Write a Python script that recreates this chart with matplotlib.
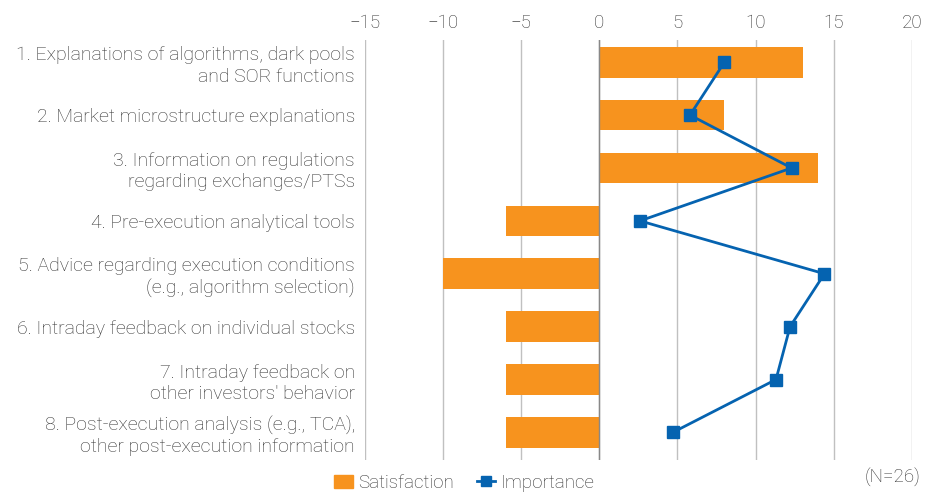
import numpy as np
import matplotlib.pyplot as plt
from matplotlib.lines import Line2D
from matplotlib.patches import Patch

plt.rcParams['font.family'] = ['Roboto', 'DejaVu Sans']
plt.rcParams['font.weight'] = 'light'

categories = [
    "1. Explanations of algorithms, dark pools\nand SOR functions",
    "2. Market microstructure explanations",
    "3. Information on regulations\nregarding exchanges/PTSs",
    "4. Pre-execution analytical tools",
    "5. Advice regarding execution conditions\n(e.g., algorithm selection)",
    "6. Intraday feedback on individual stocks",
    "7. Intraday feedback on\nother investors' behavior",
    "8. Post-execution analysis (e.g., TCA),\nother post-execution information",
]
satisfaction = [13, 8, 14, -6, -10, -6, -6, -6]
importance = [8.0, 5.8, 12.3, 2.6, 14.4, 12.2, 11.3, 4.7]
xticks = [-15, -10, -5, 0, 5, 10, 15, 20]

orange = '#F7931E'
blue = '#0563B0'
text_c = '#333333'

fig = plt.figure(figsize=(9.33, 4.94), dpi=100)
ax = fig.add_axes([0.391, 0.069, 0.5865, 0.85])

y = np.arange(len(categories))
ax.barh(y, satisfaction, height=0.58, color=orange, zorder=2)
ax.plot(importance, y, color=blue, lw=2, marker='s', markersize=8.5, zorder=3)

ax.set_xlim(-15, 20)
ax.set_ylim(7.52, -0.42)
ax.set_xticks(xticks)
ax.xaxis.tick_top()
ax.tick_params(axis='x', length=0, labelsize=13.5, colors=text_c, pad=6)
ax.set_yticks(y)
ax.set_yticklabels(categories, fontsize=14, color=text_c, linespacing=1.25)
ax.tick_params(axis='y', length=0, pad=7)
for lab in ax.get_yticklabels():
    lab.set_horizontalalignment('right')
    lab.set_multialignment('right')

ax.grid(axis='x', color='#C0C0C0', lw=1, zorder=0)
ax.axvline(0, color='#888888', lw=1, zorder=2.5)
for s in ax.spines.values():
    s.set_visible(False)

handles = [Patch(color=orange, label='Satisfaction'),
           Line2D([], [], color=blue, lw=2, marker='s', markersize=7, label='Importance')]
leg = fig.legend(handles=handles, loc='lower left', bbox_to_anchor=(0.34, -0.03), ncol=2,
                 frameon=False, fontsize=13.5, handlelength=1.0, handletextpad=0.3,
                 columnspacing=1.2)
for t in leg.get_texts():
    t.set_color(text_c)
fig.text(0.987, 0.015, '(N=26)', ha='right', va='bottom', fontsize=13.5, color=text_c)

fig.savefig('out.png', dpi=100)
